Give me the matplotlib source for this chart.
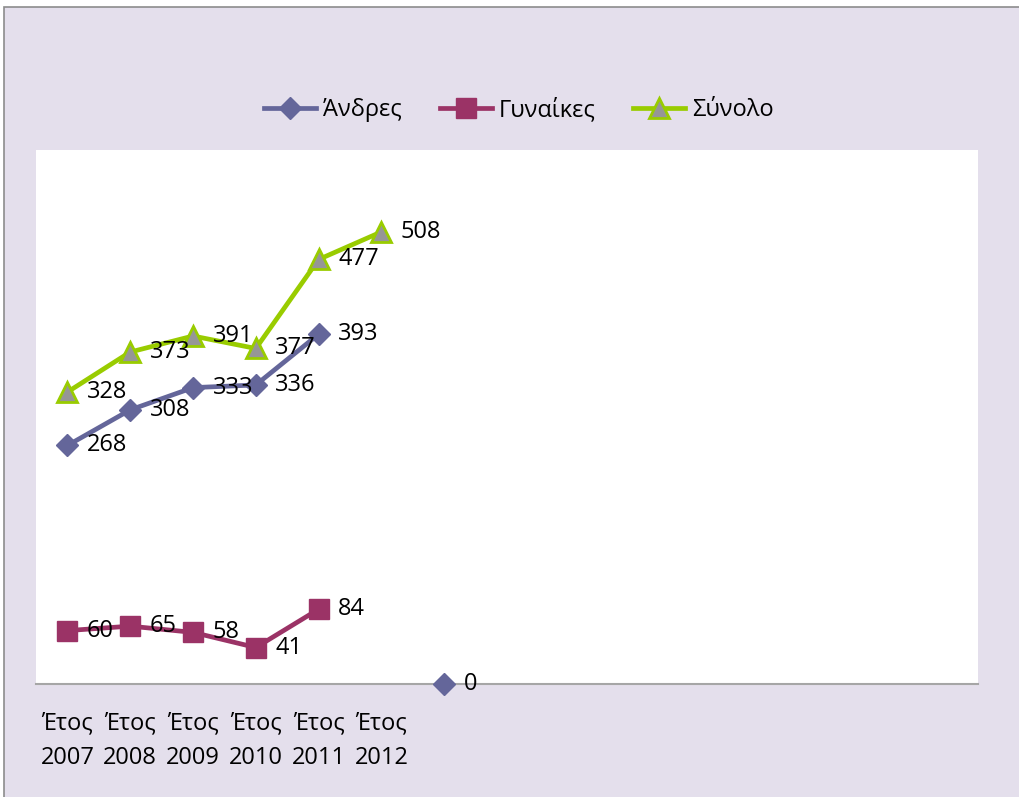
import matplotlib.pyplot as plt
import numpy as np
from matplotlib.patches import Rectangle

# categories (15 slots on the axis, only the first six have labels)
categories = ["Έτος\n2007", "Έτος\n2008", "Έτος\n2009", "Έτος\n2010", "Έτος\n2011", "Έτος\n2012",
              "", "", "", "", "", "", "", "", ""]
series_names = ["Άνδρες", "Γυναίκες", "Σύνολο"]
andres = [268, 308, 333, 336, 393, None, 0]
gynaikes = [60, 65, 58, 41, 84]
synolo = [328, 373, 391, 377, 477, 508]

plt.rcParams['font.family'] = ['Open Sans', 'DejaVu Sans']

bg = '#E4DFEC'
fig = plt.figure(figsize=(10.2, 7.97), dpi=100)
fig.patch.set_facecolor('white')
# chart area with thin grey border (top/left only visible)
fig.patches.append(Rectangle((4 / 1020, -0.05), 1.1, (797 - 7) / 797 + 0.05, transform=fig.transFigure,
                             facecolor=bg, edgecolor='#8C8C8C', linewidth=1.2, zorder=-1))

ax = fig.add_axes([36 / 1020, 113 / 797, 942 / 1020, 534 / 797])
ax.set_facecolor('white')

n = len(categories)
x = np.arange(n)


def to_arr(vals):
    arr = np.full(n, np.nan)
    for i, v in enumerate(vals):
        if v is not None:
            arr[i] = v
    return arr


a = to_arr(andres)
g = to_arr(gynaikes)
s = to_arr(synolo)

c_a = '#64669A'
c_g = '#9B3366'
c_s = '#99CC00'

ax.plot(x, a, color=c_a, lw=3.4, marker='D', ms=11, mfc=c_a, mec=c_a, label=series_names[0], clip_on=False, zorder=3)
ax.plot(x, g, color=c_g, lw=3.4, marker='s', ms=14, mfc=c_g, mec=c_g, label=series_names[1], clip_on=False, zorder=3)
ax.plot(x, s, color=c_s, lw=3.4, marker='^', ms=15, mfc='#969696', mec=c_s, mew=2, label=series_names[2],
        clip_on=False, zorder=3)

for arr in (a, g, s):
    for xi, v in zip(x, arr):
        if not np.isnan(v):
            ax.annotate(f"{int(v)}", (xi, v), xytext=(14, 0), textcoords='offset points',
                        ha='left', va='center', fontsize=17, color='black', zorder=4)

ax.set_xlim(-0.5, n - 0.5)
ax.set_ylim(0, 600)
ax.set_yticks([])
ax.set_xticks(x)
ax.set_xticklabels(categories, fontsize=17, linespacing=1.55)
ax.tick_params(axis='x', length=0, pad=20)
for sp in ['top', 'right', 'left']:
    ax.spines[sp].set_visible(False)
ax.spines['bottom'].set_color('#A6A6A6')
ax.spines['bottom'].set_linewidth(1.5)

fig.legend(loc='center', bbox_to_anchor=(0.509, 1 - 110 / 797), ncol=3, frameon=False, fontsize=17,
           handlelength=2.2, columnspacing=1.6, handletextpad=0.3)

fig.savefig('out.png', dpi=100, facecolor=fig.get_facecolor())
